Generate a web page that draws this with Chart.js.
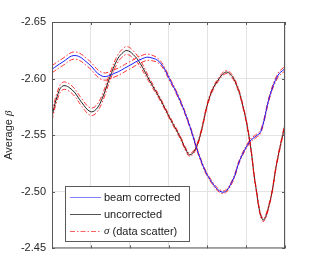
<!DOCTYPE html>
<html>
<head>
<meta charset="utf-8">
<script src="https://cdn.jsdelivr.net/npm/chart.js@4"></script>
<style>
  html, body { margin: 0; padding: 0; background: #fff; }
  #wrap { width: 315px; height: 261px; }
</style>
</head>
<body>
<div id="wrap"><canvas id="beta-chart" width="315" height="261"></canvas></div>
<script>
// beam corrected
const blueX = [0, 0.26, 0.59, 0.93, 1.29, 1.62, 1.96, 2.34, 2.52, 2.78, 3.04, 3.30, 3.55, 3.81, 4.07, 4.40, 4.64, 4.84, 5.10, 5.25, 5.38, 5.61, 5.82, 5.98];
const blueY = [-2.6083, -2.6143, -2.6204, -2.6135, -2.6022, -2.6048, -2.6109, -2.6178, -2.6187, -2.6143, -2.5987, -2.5804, -2.5578, -2.5300, -2.5109, -2.4996, -2.5091, -2.5283, -2.5448, -2.5491, -2.5535, -2.5848, -2.6030, -2.6083];
const blueSigma = [0.0032, 0.0032, 0.0032, 0.0032, 0.0032, 0.0032, 0.0032, 0.0030, 0.0026, 0.0018, 0.0014, 0.0013, 0.0012, 0.0012, 0.0012, 0.0012, 0.0012, 0.0012, 0.0013, 0.0014, 0.0014, 0.0015, 0.0018, 0.0020];

// uncorrected
const blackX = [0, 0.13, 0.28, 0.52, 0.77, 0.98, 1.13, 1.29, 1.49, 1.67, 1.80, 1.93, 2.09, 2.27, 2.52, 2.78, 3.04, 3.30, 3.45, 3.55, 3.68, 3.81, 4.07, 4.33, 4.51, 4.71, 4.92, 5.10, 5.25, 5.43, 5.61, 5.79, 6.00];
const blackY = [-2.5665, -2.5839, -2.5935, -2.5900, -2.5787, -2.5709, -2.5726, -2.5822, -2.6013, -2.6161, -2.6222, -2.6248, -2.6213, -2.6135, -2.5978, -2.5822, -2.5648, -2.5483, -2.5370, -2.5326, -2.5370, -2.5491, -2.5848, -2.6013, -2.6057, -2.5978, -2.5752, -2.5430, -2.5039, -2.4752, -2.4909, -2.5257, -2.5596];
const blackSigma = [0.0034, 0.0034, 0.0033, 0.0033, 0.0033, 0.0033, 0.0033, 0.0033, 0.0033, 0.0033, 0.0034, 0.0035, 0.0033, 0.0030, 0.0020, 0.0014, 0.0013, 0.0013, 0.0013, 0.0013, 0.0013, 0.0013, 0.0013, 0.0013, 0.0013, 0.0013, 0.0013, 0.0013, 0.0013, 0.0013, 0.0013, 0.0013, 0.0014];

const yTicks = [-2.65, -2.60, -2.55, -2.50, -2.45];
const legendLabels = ['beam corrected', 'uncorrected', '\u03c3 (data scatter)'];

const pts = (xs, ys) => xs.map((x, i) => ({ x: x, y: ys[i] }));
const shift = (xs, ys, s, k) => xs.map((x, i) => ({ x: x, y: ys[i] + k * s[i] }));

const axisColor = '#5a5a5a';
const gridColor = '#e3e3e3';
const sigmaDash = [5, 2, 1.5, 2];

const sigmaStyle = {
    borderColor: '#ff0000',
    borderWidth: 0.8,
    borderDash: sigmaDash,
    order: 2,
};

const data = {
    datasets: [
        { label: legendLabels[0], data: pts(blueX, blueY), borderColor: '#1a1aff', borderWidth: 1, order: 1 },
        { label: legendLabels[1], data: pts(blackX, blackY), borderColor: '#222222', borderWidth: 1, order: 3 },
        Object.assign({ label: 's1', data: shift(blueX, blueY, blueSigma, 1) }, sigmaStyle),
        Object.assign({ label: 's2', data: shift(blueX, blueY, blueSigma, -1) }, sigmaStyle),
        Object.assign({ label: 's3', data: shift(blackX, blackY, blackSigma, 1) }, sigmaStyle),
        Object.assign({ label: 's4', data: shift(blackX, blackY, blackSigma, -1) }, sigmaStyle),
    ]
};

// box, inner ticks, y title and legend
const decor = {
    id: 'decor',
    afterDraw(chart) {
        const { ctx, chartArea: a, scales } = chart;
        ctx.save();
        ctx.strokeStyle = axisColor;
        ctx.lineWidth = 1;
        ctx.strokeRect(a.left + 0.5, a.top + 0.5, a.right - a.left - 1, a.bottom - a.top - 1);
        ctx.beginPath();
        scales.x.ticks.forEach(t => {
            const px = Math.round(scales.x.getPixelForValue(t.value)) + 0.5;
            ctx.moveTo(px, a.top); ctx.lineTo(px, a.top + 3);
            ctx.moveTo(px, a.bottom); ctx.lineTo(px, a.bottom - 3);
        });
        scales.y.ticks.forEach(t => {
            const py = Math.round(scales.y.getPixelForValue(t.value)) + 0.5;
            ctx.moveTo(a.left, py); ctx.lineTo(a.left + 3, py);
            ctx.moveTo(a.right, py); ctx.lineTo(a.right - 3, py);
        });
        ctx.stroke();

        // y axis title
        ctx.translate(9, (a.top + a.bottom) / 2);
        ctx.rotate(-Math.PI / 2);
        ctx.fillStyle = '#262626';
        ctx.textBaseline = 'middle';
        ctx.font = '11px "Liberation Sans", Arial, sans-serif';
        const w1 = ctx.measureText('Average ').width;
        ctx.font = 'italic 11px "Liberation Serif", serif';
        const w2 = ctx.measureText('\u03b2').width;
        const x0 = -(w1 + w2) / 2;
        ctx.font = '11px "Liberation Sans", Arial, sans-serif';
        ctx.fillText('Average ', x0, 0);
        ctx.font = 'italic 11px "Liberation Serif", serif';
        ctx.fillText('\u03b2', x0 + w1, 0);
        ctx.restore();

        // legend
        ctx.save();
        const lx = 65, ly = 186, lw = 124, lh = 55;
        ctx.fillStyle = '#ffffff';
        ctx.fillRect(lx, ly, lw, lh);
        ctx.strokeStyle = axisColor;
        ctx.strokeRect(lx + 0.5, ly + 0.5, lw, lh);
        const rows = [
            { y: 197.5, color: '#7f7fff', dash: [] },
            { y: 214.5, color: '#555555', dash: [] },
            { y: 231.5, color: '#ff6060', dash: sigmaDash },
        ];
        ctx.textBaseline = 'middle';
        rows.forEach((r, i) => {
            ctx.beginPath();
            ctx.setLineDash(r.dash);
            ctx.strokeStyle = r.color;
            ctx.lineWidth = 1;
            ctx.moveTo(70, r.y); ctx.lineTo(101, r.y);
            ctx.stroke();
            ctx.setLineDash([]);
            ctx.fillStyle = '#1a1a1a';
            if (i === 2) {
                ctx.font = 'italic 11px "Liberation Serif", serif';
                ctx.fillText('\u03c3', 104, r.y);
                const sw = ctx.measureText('\u03c3').width;
                ctx.font = '11px "Liberation Sans", Arial, sans-serif';
                ctx.fillText(legendLabels[2].slice(1), 104 + sw, r.y);
            } else {
                ctx.font = '11px "Liberation Sans", Arial, sans-serif';
                ctx.fillText(legendLabels[i], 104, r.y);
            }
        });
        ctx.restore();
    }
};

const config = {
    type: 'line',
    data: data,
    options: {
        responsive: false,
        animation: false,
        events: [],
        layout: { padding: { top: 22, right: 30, left: 0, bottom: 0 } },
        elements: {
            point: { radius: 0 },
            line: { tension: 0.4, fill: false },
        },
        plugins: {
            legend: { display: false },
            tooltip: { enabled: false },
        },
        scales: {
            x: {
                type: 'linear',
                min: 0,
                max: 6,
                ticks: { display: false, stepSize: 1 },
                grid: { color: gridColor, drawTicks: false },
                border: { display: false },
                afterFit(s) { s.height = 9; },
            },
            y: {
                type: 'linear',
                reverse: true,
                min: -2.65,
                max: -2.45,
                afterBuildTicks(s) { s.ticks = yTicks.map(v => ({ value: v })); },
                ticks: {
                    padding: 6,
                    color: '#262626',
                    font: { family: '"Liberation Sans", Arial, sans-serif', size: 11 },
                    callback: v => v.toFixed(2),
                },
                grid: { color: gridColor, drawTicks: false },
                border: { display: false },
                afterFit(s) { s.width = 52; },
            },
        }
    },
    plugins: [decor],
};

new Chart(document.getElementById('beta-chart'), config);
</script>
</body>
</html>
